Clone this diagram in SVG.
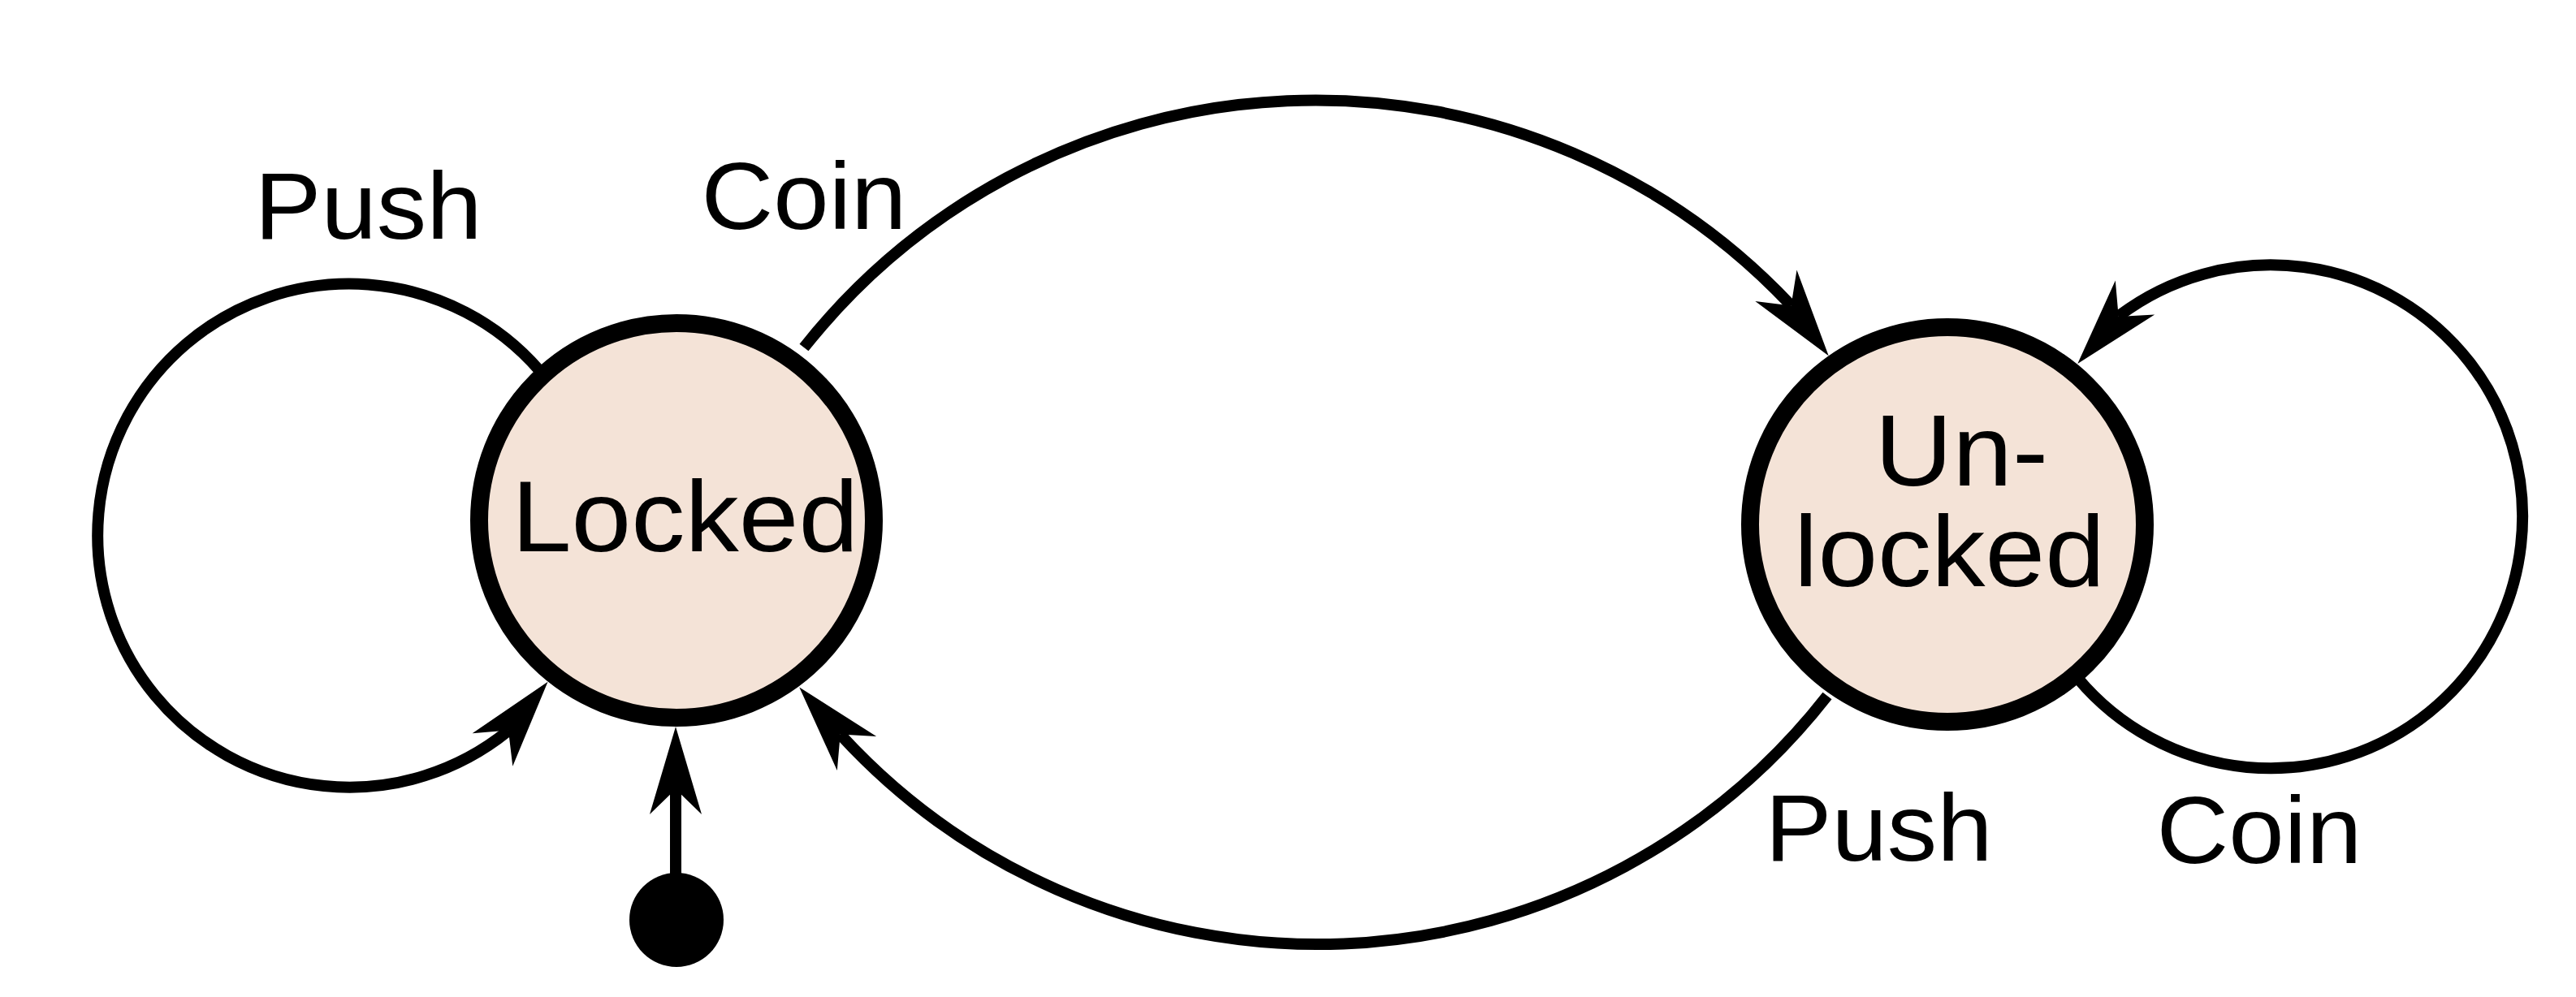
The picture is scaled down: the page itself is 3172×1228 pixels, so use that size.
<svg xmlns="http://www.w3.org/2000/svg" width="3172" height="1228" viewBox="0 0 3172 1228">
  <style>
    .state { fill: #f4e3d7; stroke: #000; stroke-width: 22; }
    .edge { fill: none; stroke: #000; stroke-width: 14; marker-end: url(#arr); }
    .init { fill: #000; }
    .lbl { font-family: "Liberation Sans", Arial, sans-serif; font-size: 116px; fill: #000; text-anchor: middle; }
    .name { font-family: "Liberation Sans", Arial, sans-serif; font-size: 125px; fill: #000; text-anchor: middle; }
  </style>
  <defs>
    <marker id="arr" markerUnits="userSpaceOnUse" markerWidth="120" markerHeight="80" viewBox="0 -40 120 80" refX="31" refY="0" orient="auto" overflow="visible">
      <path d="M0,-32 L108,0 L0,32 L31,0 Z" fill="#000"/>
    </marker>
  </defs>
  <rect width="3172" height="1228" fill="#fff"/>

  <g id="connectors">
    <path id="e-init" class="edge" d="M832,1076 L832,972"/>
    <path id="e-locked-push" class="edge" d="M664,456 A310,310 0 1 0 624.7,901 L626,899.4"/>
    <path id="e-locked-coin" class="edge" d="M990,428 A804,804 0 0 1 2204.3,375 L2205.5,376.6"/>
    <path id="e-unlocked-push" class="edge" d="M2250,857 A797,797 0 0 1 1036,906.1 L1034.7,904.6"/>
    <path id="e-unlocked-coin" class="edge" d="M2559,836 A310,310 0 1 0 2610,388.4 L2608.7,389.9"/>
  </g>

  <g id="labels">
    <text class="lbl" transform="matrix(1.06 0 0 1 453.5 0)" x="0" y="294">Push</text>
    <text class="lbl" transform="matrix(1.06 0 0 1 990 0)" x="0" y="282">Coin</text>
    <text class="lbl" transform="matrix(1.06 0 0 1 2313.5 0)" x="0" y="1060">Push</text>
    <text class="lbl" transform="matrix(1.06 0 0 1 2782 0)" x="0" y="1063">Coin</text>
  </g>

  <g id="start">
    <circle class="init" cx="833" cy="1133" r="58"/>
  </g>

  <g id="locked">
    <circle class="state" cx="833" cy="641" r="243"/>
    <text class="name" transform="matrix(1.06 0 0 1 843.5 0)" x="0" y="679">Locked</text>
  </g>

  <g id="unlocked">
    <circle class="state" cx="2398" cy="646" r="243"/>
    <text class="name" transform="matrix(1.06 0 0 1 2400.5 0)"><tspan x="14" y="598">Un-</tspan><tspan x="0" y="722">locked</tspan></text>
  </g>
</svg>
